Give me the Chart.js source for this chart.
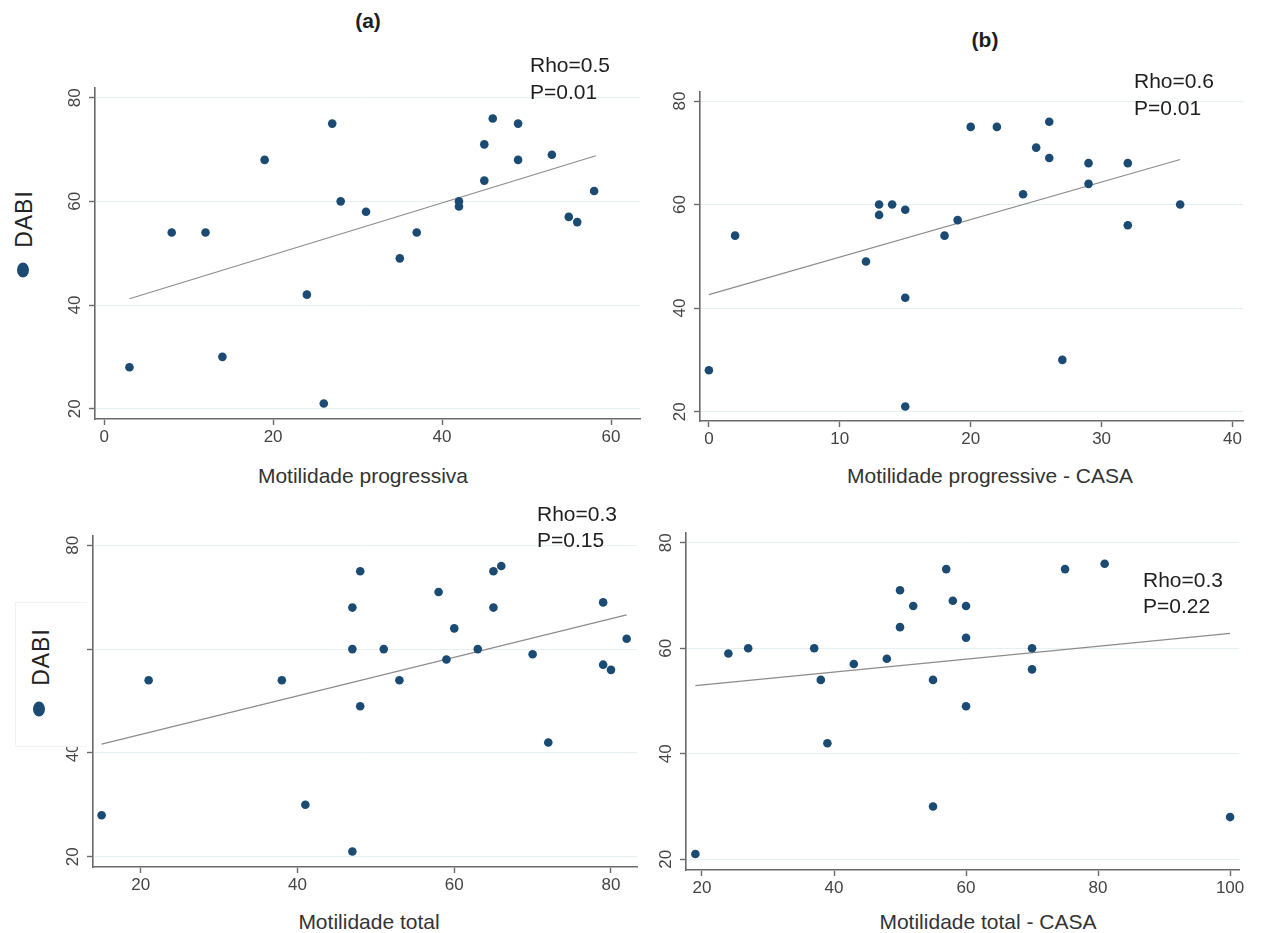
<!DOCTYPE html>
<html lang="pt">
<head>
<meta charset="UTF-8">
<title>DABI x motilidade</title>
<script src="https://cdn.jsdelivr.net/npm/chart.js"></script>
<style>
  body {
    margin: 0;
    width: 1264px;
    height: 933px;
    background: #fff;
    position: relative;
    overflow: hidden;
    font-family: 'Liberation Sans', Arial, sans-serif;
    color: #1e1e1e;
  }
  canvas { position: absolute; }
  .txt { position: absolute; white-space: nowrap; line-height: 1; }
  .title { font-size: 21px; font-weight: bold; transform: translate(-50%, -50%); }
  .stat { font-size: 21px; transform: translateY(-50%); }
  .axis-title { font-size: 21px; color: #333; transform: translate(-50%, -50%); }
  .dabi { font-size: 23px; letter-spacing: 1px; color: #222; transform: translate(-50%, -50%) rotate(-90deg); }
  .dot { position: absolute; width: 12px; height: 15px; border-radius: 50%; background: #1b4a72; transform: translate(-50%, -50%); }
  .legbox { position: absolute; background: #fff; border: 1px solid #f0f3f3; border-right: none; }
</style>
</head>
<body>
<canvas id="chartA" width="610" height="383" style="left:50px;top:68px"></canvas>
<canvas id="chartB" width="608" height="381" style="left:655px;top:72px"></canvas>
<canvas id="chartC" width="609" height="383" style="left:48px;top:516px"></canvas>
<canvas id="chartD" width="618" height="389" style="left:641px;top:513px"></canvas>

<div class="txt title" style="left:368px;top:20px">(a)</div>
<div class="txt title" style="left:985px;top:39px">(b)</div>

<div class="txt stat" style="left:530px;top:64px">Rho=0.5</div>
<div class="txt stat" style="left:530px;top:91px">P=0.01</div>
<div class="txt stat" style="left:1134px;top:80px">Rho=0.6</div>
<div class="txt stat" style="left:1134px;top:107px">P=0.01</div>
<div class="txt stat" style="left:537px;top:513px">Rho=0.3</div>
<div class="txt stat" style="left:537px;top:539px">P=0.15</div>
<div class="txt stat" style="left:1143px;top:579px">Rho=0.3</div>
<div class="txt stat" style="left:1143px;top:605px">P=0.22</div>

<div class="txt axis-title" style="left:363px;top:475px">Motilidade progressiva</div>
<div class="txt axis-title" style="left:990px;top:475px">Motilidade progressive - CASA</div>
<div class="txt axis-title" style="left:369px;top:921px">Motilidade total</div>
<div class="txt axis-title" style="left:988px;top:921px">Motilidade total - CASA</div>

<div class="txt dabi" style="left:24px;top:219px">DABI</div>
<div class="dot" style="left:23px;top:270px"></div>

<div class="legbox" style="left:15px;top:602px;width:71px;height:143px"></div>
<div class="txt dabi" style="left:41px;top:657px">DABI</div>
<div class="dot" style="left:39px;top:709px"></div>

<script>
// shared y ticks
const yTicks = [20, 40, 60, 80];

// (a) DABI x Motilidade progressiva
const xTicksA = [0, 20, 40, 60];
const progA = [3, 8, 12, 14, 19, 24, 26, 27, 28, 31, 35, 37, 42, 42, 45, 45, 46, 49, 49, 53, 55, 56, 58];
const dabiA = [28, 54, 54, 30, 68, 42, 21, 75, 60, 58, 49, 54, 60, 59, 71, 64, 76, 75, 68, 69, 57, 56, 62];
const fitAx = [3, 58.2];
const fitAy = [41.2, 68.8];

// (b) DABI x Motilidade progressive - CASA
const xTicksB = [0, 10, 20, 30, 40];
const progCasaB = [0, 2, 12, 13, 13, 14, 15, 15, 15, 18, 19, 20, 22, 24, 25, 26, 26, 27, 29, 29, 32, 32, 36];
const dabiB = [28, 54, 49, 60, 58, 60, 59, 42, 21, 54, 57, 75, 75, 62, 71, 76, 69, 30, 68, 64, 68, 56, 60];
const fitBx = [0, 36];
const fitBy = [42.6, 68.7];

// (c) DABI x Motilidade total
const xTicksC = [20, 40, 60, 80];
const totalC = [15, 21, 38, 41, 47, 47, 47, 48, 48, 51, 53, 58, 59, 60, 63, 65, 65, 66, 70, 72, 79, 79, 80, 82];
const dabiC = [28, 54, 54, 30, 68, 60, 21, 75, 49, 60, 54, 71, 58, 64, 60, 75, 68, 76, 59, 42, 69, 57, 56, 62];
const fitCx = [15, 82];
const fitCy = [41.7, 66.6];

// (d) DABI x Motilidade total - CASA
const xTicksD = [20, 40, 60, 80, 100];
const totalCasaD = [19, 24, 27, 37, 38, 39, 43, 48, 50, 50, 52, 55, 55, 57, 58, 60, 60, 60, 70, 70, 75, 81, 100];
const dabiD = [21, 59, 60, 60, 54, 42, 57, 58, 71, 64, 68, 54, 30, 75, 69, 68, 62, 49, 60, 56, 75, 76, 28];
const fitDx = [19, 100];
const fitDy = [52.9, 62.8];

const FONT = "'Liberation Sans', Arial, sans-serif";
const AXIS_COLOR = '#6a6a6a';

function pairs(xs, ys) {
    return xs.map((x, i) => ({ x: x, y: ys[i] }));
}

function makePanel(id, xs, ys, fx, fy, xTicks, range) {
    const ctx = document.getElementById(id).getContext('2d');
    return new Chart(ctx, {
        type: 'scatter',
        data: {
            datasets: [{
                data: pairs(xs, ys),
                backgroundColor: '#1b4a72',
                borderWidth: 0,
                pointRadius: 4.3
            }, {
                type: 'line',
                data: pairs(fx, fy),
                borderColor: '#8c8c8c',
                borderWidth: 1.2,
                pointRadius: 0,
                fill: false
            }]
        },
        options: {
            responsive: false,
            animation: false,
            layout: { padding: { top: 20, right: 20, bottom: 0, left: 0 } },
            plugins: { legend: { display: false }, tooltip: { enabled: false } },
            scales: {
                x: {
                    type: 'linear',
                    min: range.xMin,
                    max: range.xMax,
                    afterBuildTicks: s => { s.ticks = xTicks.map(v => ({ value: v })); },
                    afterFit: s => { s.height = 32; },
                    border: { display: true, color: AXIS_COLOR, width: 1.6 },
                    grid: { drawOnChartArea: false, drawTicks: true, tickLength: 6, tickColor: AXIS_COLOR, tickWidth: 1.4 },
                    ticks: { font: { family: FONT, size: 17 }, color: '#444', padding: 2, maxRotation: 0 }
                },
                y: {
                    type: 'linear',
                    min: range.yMin,
                    max: range.yMax,
                    afterBuildTicks: s => { s.ticks = yTicks.map(v => ({ value: v })); },
                    afterFit: s => { s.width = 45; },
                    border: { display: true, color: AXIS_COLOR, width: 1.6 },
                    grid: { color: '#e6eff1', lineWidth: 1, drawTicks: true, tickLength: 6, tickColor: AXIS_COLOR, tickWidth: 1.4 },
                    ticks: { font: { family: FONT, size: 17 }, color: '#444', padding: 4, minRotation: 90, maxRotation: 90, crossAlign: 'center' }
                }
            }
        }
    });
}

makePanel('chartA', progA, dabiA, fitAx, fitAy, xTicksA, { xMin: -1.08, xMax: 63.43, yMin: 18.01, yMax: 81.87 });
makePanel('chartB', progCasaB, dabiB, fitBx, fitBy, xTicksB, { xMin: -0.68, xMax: 40.8, yMin: 18.2, yMax: 81.74 });
makePanel('chartC', totalC, dabiC, fitCx, fitCy, xTicksC, { xMin: 13.9, xMax: 83.32, yMin: 18.02, yMax: 81.79 });
makePanel('chartD', totalCasaD, dabiD, fitDx, fitDy, xTicksD, { xMin: 17.58, xMax: 101.35, yMin: 17.97, yMax: 81.84 });
</script>
</body>
</html>
